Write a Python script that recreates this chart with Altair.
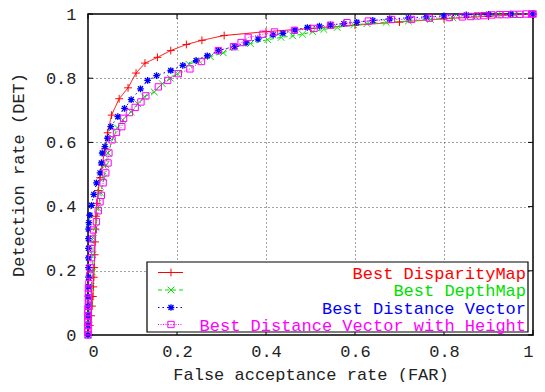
import altair as alt
import pandas as pd

# ---------------- data ----------------
names = ["Best DisparityMap", "Best DepthMap", "Best Distance Vector",
         "Best Distance Vector with Height"]
colors = ["#ff0000", "#00e000", "#0000ff", "#ff00ff"]

red_far = [0, 0.004, 0.007, 0.009, 0.011, 0.012, 0.013, 0.014, 0.015, 0.016, 0.017,
           0.018, 0.020, 0.023, 0.027, 0.032, 0.038, 0.044, 0.053, 0.070, 0.090,
           0.108, 0.128, 0.156, 0.186, 0.221, 0.256, 0.306, 0.40, 0.50, 0.60,
           0.70, 0.80, 0.90, 1.0]
red_det = [0, 0.03, 0.06, 0.09, 0.12, 0.15, 0.18, 0.21, 0.25, 0.29, 0.33,
           0.37, 0.41, 0.45, 0.49, 0.53, 0.58, 0.63, 0.685, 0.736, 0.77,
           0.816, 0.847, 0.865, 0.886, 0.905, 0.918, 0.933, 0.945, 0.955, 0.965,
           0.975, 0.985, 0.993, 1.0]

green_far = [0, 0.003, 0.005, 0.007, 0.010, 0.011, 0.012, 0.018, 0.023, 0.028,
             0.036, 0.040, 0.045, 0.056, 0.066, 0.078, 0.097, 0.112, 0.127, 0.149,
             0.167, 0.185, 0.201, 0.227, 0.249, 0.275, 0.304, 0.330, 0.365, 0.404,
             0.434, 0.46, 0.482, 0.505, 0.530, 0.56, 0.597, 0.627, 0.67, 0.72,
             0.77, 0.82, 0.87, 0.92, 0.96, 1.0]
green_det = [0, 0.05, 0.10, 0.15, 0.196, 0.25, 0.301, 0.335, 0.394, 0.443,
             0.490, 0.53, 0.567, 0.613, 0.645, 0.670, 0.695, 0.72, 0.742, 0.757,
             0.783, 0.80, 0.814, 0.843, 0.855, 0.867, 0.879, 0.896, 0.908, 0.920,
             0.927, 0.932, 0.937, 0.945, 0.952, 0.958, 0.966, 0.970, 0.974, 0.978,
             0.983, 0.988, 0.993, 0.997, 0.999, 1.0]

blue_far = [0, 0, 0, 0, 0, 0.001, 0.001, 0.001, 0.001, 0.001, 0.001, 0.001,
            0.002, 0.004, 0.008, 0.013, 0.019, 0.027, 0.030, 0.032, 0.038, 0.044,
            0.051, 0.067, 0.082, 0.097, 0.118, 0.134, 0.154, 0.186, 0.213, 0.243,
            0.268, 0.293, 0.330, 0.355, 0.382, 0.416, 0.438, 0.465, 0.493, 0.52,
            0.545, 0.575, 0.604, 0.64, 0.678, 0.72, 0.76, 0.80, 0.85, 0.90, 0.95, 1.0]
blue_det = [0, 0.03, 0.06, 0.09, 0.12, 0.15, 0.18, 0.21, 0.24, 0.27, 0.30, 0.33,
            0.35, 0.373, 0.404, 0.438, 0.474, 0.505, 0.536, 0.567, 0.587, 0.613,
            0.649, 0.680, 0.706, 0.733, 0.767, 0.793, 0.808, 0.824, 0.840, 0.855,
            0.870, 0.886, 0.899, 0.910, 0.922, 0.935, 0.940, 0.950, 0.958, 0.962,
            0.966, 0.970, 0.974, 0.980, 0.985, 0.988, 0.991, 0.994, 0.997, 0.999, 1.0, 1.0]

mag_far = [0, 0, 0, 0, 0, 0, 0, 0, 0, 0.001, 0.001, 0.001, 0.001, 0.001, 0.002,
           0.004, 0.005, 0.008, 0.008, 0.010, 0.012, 0.019, 0.023, 0.027, 0.030,
           0.034, 0.040, 0.045, 0.047, 0.054, 0.064, 0.076, 0.080, 0.093, 0.106,
           0.119, 0.130, 0.158, 0.179, 0.203, 0.229, 0.255, 0.293, 0.327, 0.344,
           0.360, 0.393, 0.419, 0.464, 0.508, 0.545, 0.582, 0.63, 0.682, 0.727,
           0.767, 0.812, 0.841, 0.86, 0.875, 0.89, 0.908, 0.925, 0.94, 0.955,
           0.97, 0.985, 0.997, 1.0]
mag_det = [0, 0.01, 0.02, 0.03, 0.04, 0.05, 0.06, 0.07, 0.08, 0.09, 0.10, 0.115,
           0.13, 0.145, 0.16, 0.186, 0.21, 0.241, 0.269, 0.299, 0.327, 0.353,
           0.387, 0.415, 0.435, 0.474, 0.505, 0.536, 0.567, 0.608, 0.631, 0.649,
           0.675, 0.693, 0.709, 0.726, 0.745, 0.773, 0.793, 0.814, 0.829, 0.852,
           0.886, 0.898, 0.911, 0.927, 0.937, 0.944, 0.949, 0.955, 0.965, 0.973,
           0.978, 0.983, 0.983, 0.987, 0.989, 0.991, 0.992, 0.994, 0.995, 0.997,
           0.998, 0.998, 0.999, 0.999, 1.0, 1.0, 1.0]

ticks = [0, 0.2, 0.4, 0.6, 0.8, 1.0]

series_far = [red_far, green_far, blue_far, mag_far]
series_det = [red_det, green_det, blue_det, mag_det]

# ---------------- styles ----------------
W, H = 445, 321
FONT = "Liberation Mono"
PLUS = "M-1,0L1,0M0,-1L0,1"
XMARK = "M-1,-1L1,1M-1,1L1,-1"
STAR = "M-1,0L1,0M0,-1L0,1M-0.75,-0.75L0.75,0.75M-0.75,0.75L0.75,-0.75"
shapes = [PLUS, XMARK, STAR, "square"]
dashes = [[1, 0], [4, 3], [1.5, 3], [1, 1.5]]
msizes = [60, 45, 45, 40]
mwidths = [1, 1, 1.3, 1]

xs = alt.Scale(domain=[0, 1], nice=False, zero=False)
ys = alt.Scale(domain=[0, 1], nice=False, zero=False)

layers = []

# inward border ticks
tdf = pd.DataFrame({"t": ticks})
tick_base = alt.Chart(tdf).mark_rule(color="black", strokeWidth=1)
layers += [
    tick_base.encode(x=alt.X("t:Q", scale=xs), y=alt.value(H), y2=alt.value(H - 5)),
    tick_base.encode(x=alt.X("t:Q", scale=xs), y=alt.value(0), y2=alt.value(5)),
    tick_base.encode(y=alt.Y("t:Q", scale=ys), x=alt.value(0), x2=alt.value(5)),
    tick_base.encode(y=alt.Y("t:Q", scale=ys), x=alt.value(W), x2=alt.value(W - 5)),
]

for k in range(4):
    df = pd.DataFrame({"far": series_far[k], "det": series_det[k],
                       "i": list(range(len(series_far[k])))})
    base = alt.Chart(df)
    enc = dict(
        x=alt.X("far:Q", scale=xs,
                axis=alt.Axis(values=ticks, format="~g",
                              title="False acceptance rate (FAR)")),
        y=alt.Y("det:Q", scale=ys,
                axis=alt.Axis(values=ticks, format="~g",
                              title="Detection rate (DET)")),
        order=alt.Order("i:Q"),
    )
    line = base.mark_line(color=colors[k], strokeWidth=1, strokeDash=dashes[k],
                          clip=False).encode(**enc)
    pts = base.mark_point(shape=shapes[k], color=colors[k], filled=False,
                          size=msizes[k], strokeWidth=mwidths[k], opacity=1,
                          clip=False).encode(x=enc["x"], y=enc["y"])
    layers += [line, pts]

# ---------------- legend (drawn as in gnuplot) ----------------
LX0, LX1, LY0, LY1 = 59, 440, 248, 318
row_y = [258.5, 276, 293.5, 310.5]
one = pd.DataFrame({"d": [0]})
layers.append(
    alt.Chart(one).mark_rect(fill="white", stroke="black", strokeWidth=1.2).encode(
        x=alt.value(LX0), x2=alt.value(LX1), y=alt.value(LY0), y2=alt.value(LY1))
)
for k in range(4):
    ndf = pd.DataFrame({"name": [names[k]]})
    layers.append(
        alt.Chart(ndf).mark_rule(color=colors[k], strokeWidth=1,
                                 strokeDash=dashes[k]).encode(
            x=alt.value(70), x2=alt.value(95), y=alt.value(row_y[k]))
    )
    layers.append(
        alt.Chart(ndf).mark_point(shape=shapes[k], color=colors[k], filled=False,
                                  size=msizes[k], strokeWidth=mwidths[k],
                                  opacity=1).encode(
            x=alt.value(83), y=alt.value(row_y[k]))
    )
    layers.append(
        alt.Chart(ndf).mark_text(align="right", baseline="middle", font=FONT,
                                 fontSize=17, color=colors[k]).encode(
            x=alt.value(438), y=alt.value(row_y[k] + 1), text="name:N")
    )

chart = alt.layer(*layers).properties(
    width=W, height=H,
    autosize=alt.AutoSizeParams(type="none"),
    padding={"left": 80, "top": 6, "right": 4, "bottom": 47},
).configure_view(
    stroke="black", strokeWidth=1.5
).configure_axis(
    grid=True, gridColor="#444", gridDash=[1, 3], gridWidth=1,
    domain=False, ticks=False,
    labelFont=FONT, labelFontSize=17, labelColor="#222",
    titleFont=FONT, titleFontSize=17, titleColor="#222", titleFontWeight="normal",
).configure_axisX(
    labelPadding=8, titleBaseline="alphabetic", titleY=44,
).configure_axisY(
    labelPadding=12, titlePadding=18,
)

chart.save("out.html", embed_options={"renderer": "svg", "actions": False})
